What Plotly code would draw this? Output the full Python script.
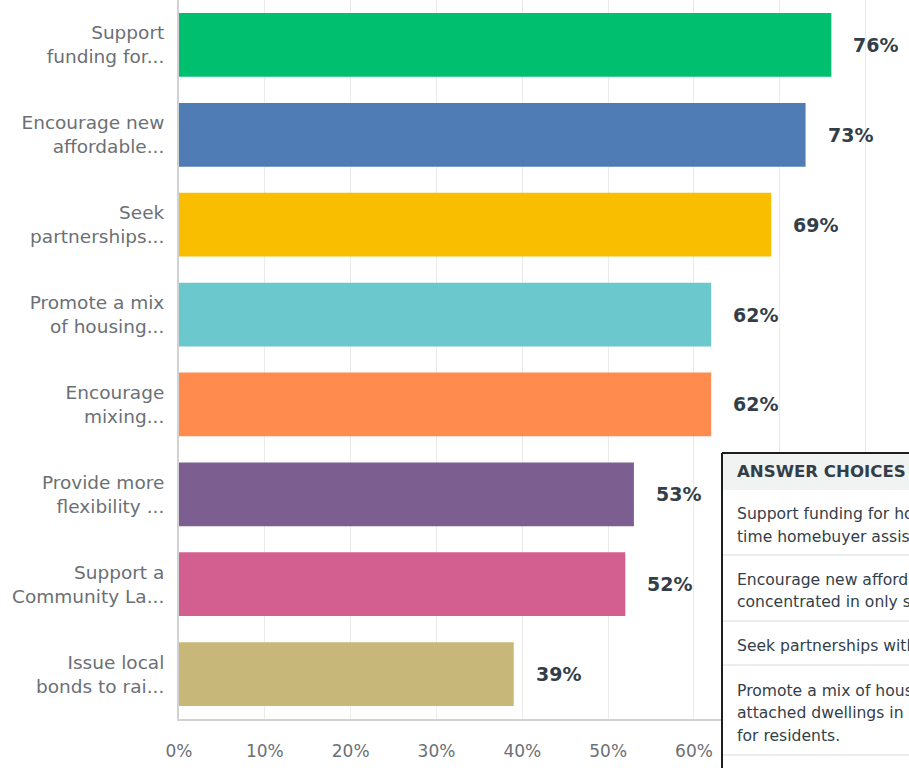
import plotly.graph_objects as go

# Survey answers (truncated as shown on the axis) and share of respondents, in %
categories = [
    "Support<br>funding for...",
    "Encourage new<br>affordable...",
    "Seek<br>partnerships...",
    "Promote a mix<br>of housing...",
    "Encourage<br>mixing...",
    "Provide more<br>flexibility ...",
    "Support a<br>Community La...",
    "Issue local<br>bonds to rai...",
]
values = [76, 73, 69, 62, 62, 53, 52, 39]
bar_colors = ["#00bf6f", "#507cb6", "#f9be00", "#6bc8cd",
              "#ff8b4f", "#7d5e90", "#d25f90", "#c7b879"]
# gridlines run to 80%; the labels past 60% sit behind the table
tick_values = [0, 10, 20, 30, 40, 50, 60, 70, 80]
tick_labels = ["0%", "10%", "20%", "30%", "40%", "50%", "60%", "", ""]

# Rows of the answer-choices table (each row is a list of text lines)
table_header = "ANSWER CHOICES"
table_rows = [
    ["Support funding for homeownership programs, such as first-",
     "time homebuyer assistance."],
    ["Encourage new affordable housing throughout the city, not",
     "concentrated in only some neighborhoods."],
    ["Seek partnerships with nonprofit and private developers."],
    ["Promote a mix of housing types, such as townhomes and",
     "attached dwellings in all neighborhoods, to offer more choices",
     "for residents."],
]

W, H = 909, 768
PL, PR, PT, PB = 179, 909, 0, 719
FONT = "DejaVu Sans"
LABEL_GRAY = "#6b7075"
DARK = "#333e48"


def xp(px):
    return (px - PL) / (PR - PL)


def yp(py):
    return (PB - py) / (PB - PT)


fig = go.Figure(go.Bar(
    x=values, y=categories, orientation="h",
    marker=dict(color=bar_colors, line=dict(width=0)),
    hoverinfo="skip",
))

annotations = []
for cat, v in zip(categories, values):
    annotations.append(dict(
        x=v, y=cat, xref="x", yref="y", text=f"<b>{v}%</b>",
        showarrow=False, xanchor="left", yanchor="middle", xshift=20,
        font=dict(family=FONT, size=19, color=DARK),
    ))

shapes = []
TL, TT = 722, 453
# table background and header band
shapes.append(dict(type="rect", xref="paper", yref="paper", layer="above",
                   x0=xp(TL), x1=xp(W + 40), y0=yp(TT), y1=yp(H + 40),
                   fillcolor="white", line=dict(width=0)))
shapes.append(dict(type="rect", xref="paper", yref="paper", layer="above",
                   x0=xp(TL), x1=xp(W + 40), y0=yp(TT), y1=yp(490),
                   fillcolor="#f1f2f2", line=dict(width=0)))
# row separators
row_bounds = [490, 555, 621, 665, 755]
for yb in row_bounds[1:]:
    shapes.append(dict(type="line", xref="paper", yref="paper", layer="above",
                       x0=xp(TL), x1=xp(W + 40), y0=yp(yb), y1=yp(yb),
                       line=dict(color="#d9dbdc", width=1)))
# dark outer border (left and top)
shapes.append(dict(type="line", xref="paper", yref="paper", layer="above",
                   x0=xp(TL), x1=xp(TL), y0=yp(TT), y1=yp(H + 40),
                   line=dict(color="#1e1e1e", width=2)))
shapes.append(dict(type="line", xref="paper", yref="paper", layer="above",
                   x0=xp(TL), x1=xp(W + 40), y0=yp(TT), y1=yp(TT),
                   line=dict(color="#1e1e1e", width=2)))

annotations.append(dict(
    x=xp(735), y=yp(471.5), xref="paper", yref="paper", text=f"<b>{table_header}</b>",
    showarrow=False, xanchor="left", yanchor="middle",
    font=dict(family=FONT, size=16.6, color=DARK),
))
LINE_GAP = 22.5
for (top, bot), lines in zip(zip(row_bounds[:-1], row_bounds[1:]), table_rows):
    mid = (top + bot) / 2 + 3
    n = len(lines)
    for i, line in enumerate(lines):
        cy = mid + (i - (n - 1) / 2) * LINE_GAP
        annotations.append(dict(
            x=xp(735), y=yp(cy), xref="paper", yref="paper", text=line,
            showarrow=False, xanchor="left", yanchor="middle",
            font=dict(family=FONT, size=15.6, color=DARK),
        ))

fig.update_layout(
    width=W, height=H, autosize=False,
    margin=dict(l=PL, r=W - PR, t=PT, b=H - PB, pad=0),
    paper_bgcolor="white", plot_bgcolor="white",
    bargap=0.29, showlegend=False,
    font=dict(family=FONT, color=LABEL_GRAY),
    xaxis=dict(range=[0, 85.05], tickvals=tick_values, ticktext=tick_labels,
               showgrid=True, gridcolor="#ebebeb", gridwidth=1,
               zeroline=False, showline=True, linecolor="#d0d2d3", linewidth=2,
               ticks="", ticklabelstandoff=16,
               tickfont=dict(family=FONT, size=17, color=LABEL_GRAY)),
    yaxis=dict(autorange="reversed", showgrid=False, zeroline=False,
               showline=True, linecolor="#d0d2d3", linewidth=2,
               ticks="", ticklabelstandoff=9,
               tickfont=dict(family=FONT, size=18.5, color=LABEL_GRAY)),
    shapes=shapes, annotations=annotations,
)

fig.write_html("out.html")
